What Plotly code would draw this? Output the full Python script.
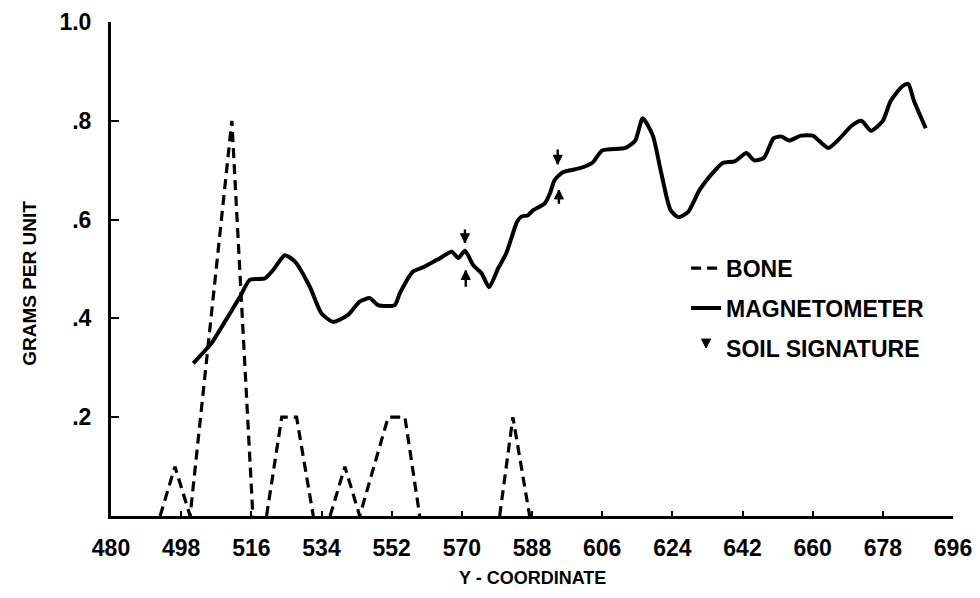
import plotly.graph_objects as go

# ---- data ----
mag_x = [501.1, 505.8, 507.1, 510.5, 513.1, 515.6, 519.5, 521.6, 524.6, 527.2,
         531.0, 534.0, 537.0, 540.8, 543.8, 546.4, 548.5, 552.8, 554.1, 557.5,
         560.5, 564.4, 567.4, 569.1, 570.8, 572.9, 575.1, 577.0, 579.3, 581.4,
         584.2, 585.3, 587.0, 588.3, 591.3, 592.6, 593.8, 595.9, 600.3, 603.5,
         606.0, 612.0, 614.5, 616.4, 619.0, 621.0, 623.5, 625.5, 628.0, 631.0,
         635.0, 637.0, 640.0, 643.0, 645.0, 647.5, 650.0, 652.0, 654.0, 657.0,
         660.0, 664.0, 667.0, 670.0, 672.5, 675.0, 678.0, 680.0, 683.0, 684.5,
         686.0, 689.0]
mag_y = [0.309, 0.350, 0.366, 0.410, 0.444, 0.478, 0.481, 0.498, 0.528, 0.515,
         0.464, 0.410, 0.393, 0.407, 0.434, 0.441, 0.427, 0.427, 0.451, 0.495,
         0.505, 0.522, 0.535, 0.522, 0.537, 0.508, 0.491, 0.463, 0.501, 0.532,
         0.596, 0.606, 0.609, 0.619, 0.633, 0.653, 0.680, 0.696, 0.704, 0.715,
         0.740, 0.745, 0.760, 0.805, 0.770, 0.700, 0.620, 0.605, 0.615, 0.660,
         0.700, 0.715, 0.718, 0.735, 0.720, 0.725, 0.765, 0.768, 0.760, 0.770,
         0.770, 0.745, 0.765, 0.790, 0.800, 0.780, 0.800, 0.840, 0.870, 0.875,
         0.840, 0.785]

# None separates the separate humps of the bone curve
bone_x = [492.6, 496.4, 500.3, 511.0, 516.4, None, 519.9, 523.8, 527.6, 531.9,
          None, 536.2, 540.0, 543.8, 551.1, 555.4, 559.2, None, 579.7, 583.1, 587.4]
bone_y = [0.0, 0.1, 0.0, 0.8, 0.0, None, 0.0, 0.2, 0.2, 0.0,
          None, 0.0, 0.1, 0.0, 0.2, 0.2, 0.0, None, 0.0, 0.2, 0.0]

# soil signature arrows: x, tail end and tip end of each arrow
soil_x = [570.8, 571.0, 594.6, 594.9]
soil_tail = [0.580, 0.464, 0.742, 0.632]
soil_tip = [0.553, 0.497, 0.712, 0.660]
soil_dir = ["down", "up", "down", "up"]

x_ticks = [480, 498, 516, 534, 552, 570, 588, 606, 624, 642, 660, 678, 696]
y_ticks = [0.2, 0.4, 0.6, 0.8, 1.0]
y_tick_text = [".2", ".4", ".6", ".8", "1.0"]

FONT = "Liberation Sans"

fig = go.Figure()

fig.add_trace(go.Scatter(
    x=bone_x, y=bone_y, mode="lines", name="BONE",
    line=dict(color="black", width=3.2, dash="10px,6px"),
    legendgroup="a", connectgaps=False,
))
fig.add_trace(go.Scatter(
    x=mag_x, y=mag_y, mode="lines", name="MAGNETOMETER",
    line=dict(color="black", width=4, shape="spline", smoothing=0.6),
    legendgroup="b",
))

# arrow stems (tail to tip)
stem_x, stem_y = [], []
for sx, t0, t1 in zip(soil_x, soil_tail, soil_tip):
    stem_x += [sx, sx, None]
    stem_y += [t0, t1, None]
fig.add_trace(go.Scatter(
    x=stem_x, y=stem_y, mode="lines", showlegend=False, hoverinfo="skip",
    line=dict(color="black", width=2.4), legendgroup="c",
))
# arrow heads at the tips
fig.add_trace(go.Scatter(
    x=soil_x, y=soil_tip, mode="markers", name="SOIL SIGNATURE",
    marker=dict(color="black", size=9,
                symbol=["arrow-" + d for d in soil_dir],
                line=dict(color="black", width=1)),
    legendgroup="c",
))

fig.add_annotation(text="GRAMS PER UNIT", xref="paper", yref="paper",
                   x=-0.0962, y=0.472, xanchor="center", yanchor="middle",
                   textangle=-90, showarrow=False,
                   font=dict(family=FONT, size=19, color="black", weight="bold"))
fig.add_annotation(text="Y - COORDINATE", xref="paper", yref="paper",
                   x=0.501, y=-0.1255, xanchor="center", yanchor="middle",
                   showarrow=False,
                   font=dict(family=FONT, size=18, color="black", weight="bold"))

# the page body adds an 8px offset, so the figure is 8px smaller on each side
fig.update_layout(
    width=972, height=590,
    margin=dict(l=103, r=27, t=14, b=82),
    paper_bgcolor="white", plot_bgcolor="white",
    font=dict(family=FONT, color="black"),
    showlegend=True,
    legend=dict(
        x=0.683, y=0.545, xanchor="left", yanchor="top",
        bgcolor="rgba(0,0,0,0)",
        font=dict(family=FONT, size=23, color="black", weight="bold"),
        tracegroupgap=7,
        itemwidth=30,
    ),
    xaxis=dict(
        range=[480, 696], tickvals=x_ticks,
        showgrid=False, zeroline=False, automargin=False,
        showline=True, linecolor="black", linewidth=3,
        ticks="inside", ticklen=5, tickwidth=2, tickcolor="black",
        tickfont=dict(family=FONT, size=23, color="black", weight="bold"),
        ticklabelstandoff=9,
    ),
    yaxis=dict(
        range=[0, 1.0], tickvals=y_ticks, ticktext=y_tick_text,
        showgrid=False, zeroline=False, automargin=False,
        showline=True, linecolor="black", linewidth=3,
        ticks="inside", ticklen=8, tickwidth=2, tickcolor="black",
        tickfont=dict(family=FONT, size=23, color="black", weight="bold"),
        ticklabelstandoff=12,
    ),
)

fig.write_html("out.html")
